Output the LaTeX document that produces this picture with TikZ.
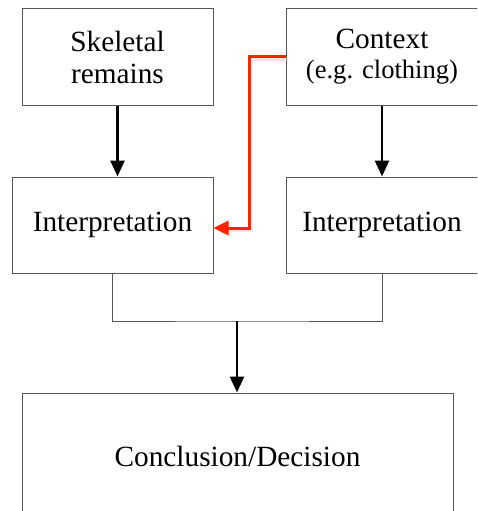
\documentclass[tikz,border=0pt]{standalone}
\usepackage{fontspec}
\setmainfont{Liberation Serif}
\usetikzlibrary{arrows.meta}
\definecolor{boxgray}{HTML}{555555}
\definecolor{linkred}{HTML}{FF2400}
\begin{document}
\begin{tikzpicture}[x=1pt,y=-1pt,
  box/.style={draw=boxgray,line width=1pt,rectangle,align=center,inner sep=0pt,
    font=\fontsize{29.3}{32}\selectfont},
  flow/.style={draw=black,line width=2.7pt,-{Triangle[length=16pt,width=14pt]}},
  joinline/.style={draw=boxgray,line width=1pt},
  redlink/.style={draw=linkred,line width=3pt,-{Triangle[length=15pt,width=14pt]}},
  redshadow/.style={draw=black!18,line width=3.5pt,opacity=0.5,-{Triangle[length=15pt,width=14pt]}}]
\useasboundingbox (0,0) rectangle (477,511);
\clip (0,0) rectangle (477,511);
\node[box,minimum width=191,minimum height=96] (sk) at (117.5,57) {Skeletal\\remains};
\node[box,minimum width=192,minimum height=96] (ctx) at (382,57) {Context\\[-2pt]{\fontsize{26.6}{30}\selectfont (e.g. clothing)}};
\node[box,minimum width=201,minimum height=96] (il) at (112.5,225) {Interpretation};
\node[box,minimum width=192,minimum height=96] (ir) at (382,225) {Interpretation};
\node[box,minimum width=431,minimum height=126] (conc) at (237.5,456) {Conclusion/Decision};
\coordinate (jn) at (237,321);
\coordinate (rc) at (249,57);
\path[flow] (sk.south) -- (sk.south |- il.north);
\path[flow] (ctx.south) -- (ir.north);
\path[joinline] (il.south) |- (jn) -| (ir.south);
\path[flow] (jn) -- (jn |- conc.north);
\path[redshadow] ([shift={(2,2)}]ctx.west) -| ([shift={(2,2)}]rc) |- ([shift={(2,5)}]il.east);
\path[redlink] (ctx.west) -| (rc) |- ([yshift=-3pt]il.east);
\end{tikzpicture}
\end{document}
